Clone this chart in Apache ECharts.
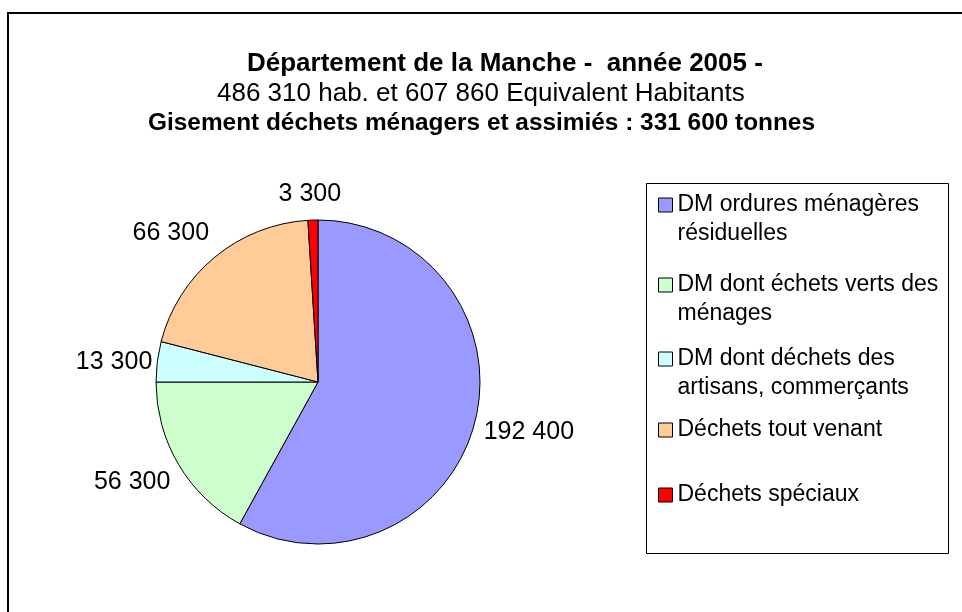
<!DOCTYPE html>
<html>
<head>
<meta charset="utf-8">
<script src="https://cdn.jsdelivr.net/npm/echarts@6/dist/echarts.min.js"></script>
<style>
  html, body { margin: 0; padding: 0; background: #fff; }
  #chart { width: 962px; height: 612px; }
</style>
</head>
<body>
<div id="chart"></div>
<script>
const categories = [
  'DM ordures ménagères\nrésiduelles',
  'DM dont échets verts des\nménages',
  'DM dont déchets des\nartisans, commerçants',
  'Déchets tout venant',
  'Déchets spéciaux'
];
const tonnes = [192400, 56300, 13300, 66300, 3300];
const sliceColors = ['#9999FF', '#CCFFCC', '#CCFFFF', '#FFCC99', '#FF0000'];
const titleLines = [
  'Département de la Manche -  année 2005 -',
  '486 310 hab. et 607 860 Equivalent Habitants',
  'Gisement déchets ménagers et assimiés : 331 600 tonnes'
];

// label placement tweaks [length, length2], excel puts them a bit differently
const labelLen = [[38, -33], [35, -27], [0, 0], [31, -19], [26, -34]];
// y of the first text line of each legend entry
const legendY = [205, 285, 359, 430, 495];
const LINE_H = 29;

const FONT = '"Liberation Sans", Arial, sans-serif';

function fmt(v) {
  return String(v).replace(/\B(?=(\d{3})+(?!\d))/g, ' ');
}

const chart = echarts.init(document.getElementById('chart'));

const titleLeft = [247, 217, 148];
const titleTop = [51, 81, 111];
const titleSize = [26, 26, 24.4];
const titles = titleLines.map((t, i) => ({
  text: t,
  left: titleLeft[i],
  top: titleTop[i],
  padding: 0,
  textStyle: {
    fontFamily: FONT,
    fontSize: titleSize[i],
    fontWeight: i === 1 ? 'normal' : 'bold',
    color: '#000'
  }
}));

// multi-line entries get an empty line on top so the icon sits on the first line
const legends = categories.map((name, i) => {
  const twoLines = name.indexOf('\n') >= 0;
  return {
    data: [name],
    left: 658,
    top: legendY[i] - (twoLines ? LINE_H * 1.5 : LINE_H / 2),
    padding: 0,
    icon: 'rect',
    itemWidth: 14,
    itemHeight: 14,
    itemGap: 5,
    selectedMode: false,
    formatter: n => (n.indexOf('\n') >= 0 ? ' \n' + n : n),
    itemStyle: { borderColor: '#000', borderWidth: 1 },
    textStyle: {
      fontFamily: FONT,
      fontSize: 23,
      lineHeight: LINE_H,
      color: '#000'
    }
  };
});

chart.setOption({
  animation: false,
  backgroundColor: '#fff',
  title: titles,
  legend: legends,
  graphic: [
    {
      type: 'rect',
      shape: { x: 8, y: 13, width: 1000, height: 700 },
      style: { fill: 'none', stroke: '#000', lineWidth: 2 },
      silent: true
    },
    {
      type: 'rect',
      shape: { x: 646.5, y: 183.5, width: 302, height: 370 },
      style: { fill: 'none', stroke: '#000', lineWidth: 1 },
      silent: true
    }
  ],
  series: [{
    type: 'pie',
    center: [318, 382],
    radius: 162,
    startAngle: 90,
    clockwise: true,
    avoidLabelOverlap: false,
    itemStyle: { borderColor: '#000', borderWidth: 1 },
    label: {
      show: true,
      position: 'outside',
      fontFamily: FONT,
      fontSize: 25,
      color: '#000',
      formatter: p => fmt(p.value)
    },
    labelLine: { show: false },
    data: categories.map((name, i) => ({
      name: name,
      value: tonnes[i],
      itemStyle: { color: sliceColors[i] },
      labelLine: { show: false, length: labelLen[i][0], length2: labelLen[i][1] }
    }))
  }]
});
</script>
</body>
</html>
